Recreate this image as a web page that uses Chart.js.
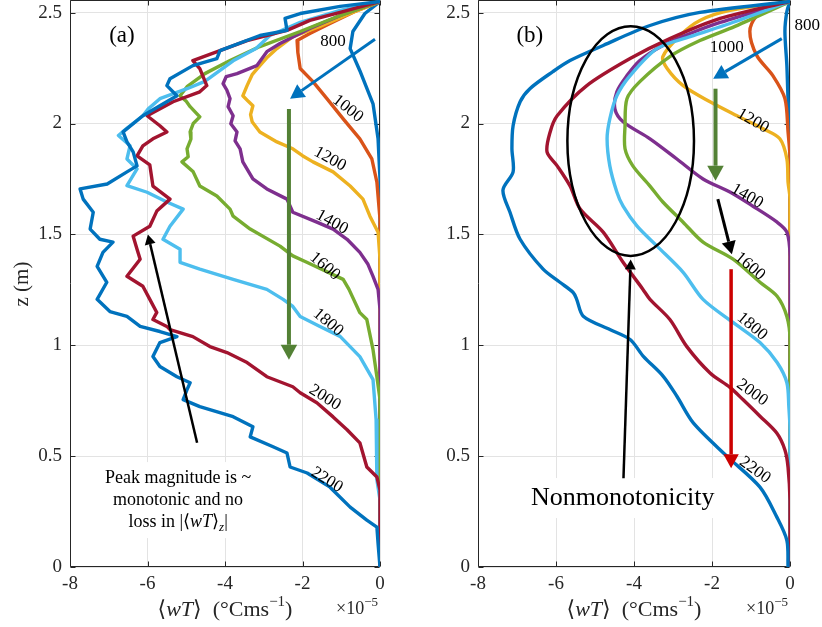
<!DOCTYPE html>
<html>
<head>
<meta charset="utf-8">
<script src="https://cdn.jsdelivr.net/npm/chart.js@4.4.1/dist/chart.umd.min.js"></script>
<style>
  html, body { margin: 0; padding: 0; background: #fff; }
  body { position: relative; width: 822px; height: 627px; overflow: hidden; }
  .panel { position: absolute; top: 0; }
  #panelA { left: 0; }
  #panelB { left: 410px; }
</style>
</head>
<body>
<canvas id="panelA" class="panel" width="400" height="627"></canvas>
<canvas id="panelB" class="panel" width="412" height="627"></canvas>
<script>
const SERIF = "'Liberation Serif', 'DejaVu Serif', serif"
const INK = '#262626'

// runs (legend text written on the curves) and MATLAB default colours
const runs = ['800', '1000', '1200', '1400', '1600', '1800', '2000', '2200']
const runColors = ['#0072BD', '#D95319', '#EDB120', '#7E2F8E', '#77AC30', '#4DBEEE', '#A2142F', '#0072BD']
const xTicks = [-8, -6, -4, -2, 0]
const zTicks = [0, 0.5, 1, 1.5, 2, 2.5]

// ---- panel (a): z (m) and <wT> (x1e-5 C m/s) ----
const zA800 = [2.55, 2.496, 2.415, 2.338, 2.238, 2.089, 1.931, 1.75, 0]
const wtA800 = [0, -0.39, -0.70, -0.77, -0.52, -0.18, -0.05, 0, 0]

const zA1000 = [2.55, 2.505, 2.451, 2.406, 2.374, 2.32, 2.248, 2.189, 2.112, 2.021, 1.931, 1.84, 1.736, 1.569, 0]
const wtA1000 = [0, -0.65, -1.29, -1.81, -2.14, -2.12, -2.06, -1.73, -1.37, -0.95, -0.52, -0.21, -0.08, 0, 0]

const zA1200 = [2.55, 2.496, 2.438, 2.392, 2.338, 2.3, 2.261, 2.22, 2.171, 2.125, 2.1, 2.08, 2.04, 2.008, 1.962, 1.917, 1.886, 1.855, 1.827, 1.782, 1.718, 1.659, 1.582, 1.51, 1.388, 0]
const wtA1200 = [0, -0.77, -1.55, -2.25, -2.66, -2.9, -3.10, -3.3, -3.43, -3.54, -3.4, -3.28, -3.34, -3.30, -3.10, -2.66, -2.25, -2.0, -1.73, -1.21, -0.77, -0.44, -0.26, -0.05, 0, 0]

const zA1400 = [2.55, 2.496, 2.429, 2.361, 2.324, 2.261, 2.225, 2.211, 2.18, 2.15, 2.112, 2.076, 2.035, 1.999, 1.962, 1.922, 1.886, 1.827, 1.75, 1.705, 1.659, 1.6, 1.555, 1.524, 1.478, 1.419, 1.365, 1.311, 1.252, 1.162, 0]
const wtA1400 = [0, -0.90, -1.81, -2.58, -2.92, -3.18, -3.69, -3.97, -4.05, -3.95, -3.87, -3.92, -3.79, -3.85, -3.69, -3.74, -3.61, -3.54, -3.28, -2.92, -2.40, -2.25, -1.63, -1.21, -0.85, -0.52, -0.31, -0.18, -0.05, 0, 0]

const zA1600 = [2.55, 2.487, 2.415, 2.347, 2.284, 2.225, 2.166, 2.125, 2.1, 2.076, 2.03, 2.0, 1.962, 1.93, 1.886, 1.85, 1.827, 1.782, 1.718, 1.673, 1.614, 1.582, 1.524, 1.447, 1.403, 1.374, 1.297, 1.252, 1.147, 1.116, 0.98, 0.858, 0.755, 0]
const wtA1600 = [0, -1.03, -2.06, -3.10, -3.87, -4.52, -4.98, -5.16, -5.0, -4.90, -4.65, -4.82, -4.90, -4.88, -4.98, -4.95, -5.11, -4.82, -4.65, -4.21, -3.87, -3.79, -3.35, -2.58, -2.25, -1.89, -0.95, -0.80, -0.52, -0.34, -0.18, -0.08, 0, 0]

const zA1800 = [2.55, 2.51, 2.456, 2.397, 2.338, 2.283, 2.19, 2.157, 2.112, 2.066, 2.035, 1.976, 1.946, 1.9, 1.84, 1.795, 1.72, 1.69, 1.646, 1.614, 1.537, 1.478, 1.433, 1.374, 1.343, 1.297, 1.252, 1.207, 1.175, 1.13, 1.085, 1.04, 0.949, 0.845, 0.664, 0.393, 0.302, 0]
const wtA1800 = [0, -1.03, -2.06, -2.84, -3.2, -3.79, -4.52, -4.98, -5.68, -5.98, -6.12, -6.55, -6.75, -6.45, -6.53, -6.27, -6.53, -6.01, -5.50, -5.08, -5.42, -5.60, -5.16, -5.16, -4.65, -3.79, -2.92, -2.50, -2.25, -2.06, -1.55, -1.03, -0.52, -0.18, -0.10, -0.08, 0, 0]

const zA2000 = [2.55, 2.501, 2.465, 2.42, 2.374, 2.329, 2.284, 2.248, 2.171, 2.143, 2.098, 2.035, 1.99, 1.962, 1.931, 1.899, 1.854, 1.813, 1.718, 1.659, 1.605, 1.537, 1.492, 1.433, 1.388, 1.311, 1.266, 1.207, 1.148, 1.116, 1.085, 1.071, 1.039, 0.994, 0.967, 0.922, 0.858, 0.813, 0.786, 0.741, 0.677, 0.619, 0.56, 0.451, 0.406, 0.347, 0]
const wtA2000 = [0, -1.03, -1.81, -2.40, -3.43, -4.13, -4.83, -4.65, -4.47, -4.65, -5.34, -6.01, -5.68, -5.50, -5.86, -6.12, -6.27, -5.94, -5.86, -5.42, -5.76, -5.94, -6.37, -6.27, -6.19, -6.53, -6.12, -5.94, -5.76, -5.86, -5.50, -5.42, -4.83, -4.39, -3.95, -3.43, -2.92, -2.25, -2.06, -1.63, -1.21, -0.85, -0.52, -0.34, -0.08, 0, 0]

const zA2200 = [2.55, 2.528, 2.496, 2.474, 2.42, 2.397, 2.329, 2.293, 2.261, 2.202, 2.171, 2.125, 2.08, 2.035, 1.962, 1.917, 1.872, 1.809, 1.782, 1.727, 1.705, 1.659, 1.6, 1.524, 1.478, 1.465, 1.419, 1.356, 1.284, 1.207, 1.152, 1.13, 1.085, 1.062, 1.039, 1.012, 0.949, 0.904, 0.858, 0.831, 0.8, 0.755, 0.723, 0.678, 0.632, 0.587, 0.542, 0.514, 0.451, 0.424, 0.36, 0.27, 0.211, 0.18, 0.107, 0]
const wtA2200 = [0, -1.03, -2.06, -2.45, -2.40, -3.10, -4.13, -4.21, -4.83, -5.42, -5.50, -5.24, -5.68, -6.12, -6.63, -6.53, -6.37, -6.27, -6.53, -7.04, -7.74, -7.66, -7.40, -7.48, -7.23, -6.89, -7.15, -7.30, -7.05, -7.30, -6.97, -6.53, -6.19, -5.68, -5.24, -5.68, -5.86, -5.68, -5.24, -4.90, -4.98, -5.08, -4.65, -3.79, -3.28, -3.35, -2.76, -2.40, -2.32, -1.88, -1.29, -0.77, -0.34, -0.08, -0.05, 0]

// ---- panel (b) ----
const zB800 = [2.55, 2.505, 2.415, 2.261, 2.112, 1.962, 0]
const wtB800 = [0, -0.08, -0.13, -0.08, -0.05, 0, 0]

const zB1000 = [2.55, 2.528, 2.487, 2.415, 2.306, 2.216, 2.112, 1.962, 1.84, 0]
const wtB1000 = [0, -0.51, -0.85, -1.03, -0.85, -0.44, -0.13, -0.05, 0, 0]

const zB1200 = [2.55, 2.51, 2.465, 2.397, 2.302, 2.248, 2.171, 2.098, 2.035, 1.976, 1.931, 1.84, 1.736, 1.659, 0]
const wtB1200 = [0, -1.54, -2.31, -2.82, -3.26, -3.15, -2.74, -2.05, -1.36, -0.69, -0.26, -0.08, -0.05, 0, 0]

const zB1400 = [2.55, 2.456, 2.406, 2.352, 2.284, 2.216, 2.143, 2.066, 2.008, 1.931, 1.84, 1.75, 1.691, 1.627, 1.555, 1.51, 1.401, 0]
const wtB1400 = [0, -1.79, -2.56, -3.26, -3.85, -4.18, -4.44, -4.49, -4.28, -3.59, -2.90, -2.23, -1.54, -0.95, -0.33, -0.08, 0, 0]

const zB1600 = [2.55, 2.438, 2.374, 2.302, 2.189, 2.112, 1.99, 1.886, 1.809, 1.718, 1.646, 1.555, 1.465, 1.388, 1.284, 1.221, 1.13, 1.026, 0]
const wtB1600 = [0, -1.41, -2.31, -3.08, -3.85, -4.18, -4.23, -4.23, -4.03, -3.59, -3.26, -2.74, -2.23, -1.46, -0.77, -0.33, -0.08, 0, 0]

const zB1800 = [2.55, 2.451, 2.392, 2.338, 2.216, 2.125, 2.021, 1.931, 1.809, 1.691, 1.627, 1.537, 1.447, 1.329, 1.207, 1.103, 1.012, 0.922, 0.831, 0.723, 0.619, 0]
const wtB1800 = [0, -1.54, -2.56, -3.41, -4.10, -4.44, -4.62, -4.69, -4.62, -4.44, -4.28, -3.92, -3.41, -2.74, -2.23, -1.46, -0.77, -0.33, -0.08, -0.03, 0, 0]

const zB2000 = [2.55, 2.474, 2.383, 2.293, 2.171, 2.035, 1.962, 1.872, 1.809, 1.718, 1.614, 1.51, 1.374, 1.252, 1.207, 1.116, 0.995, 0.875, 0.81, 0.754, 0.68, 0.604, 0.528, 0.45, 0.3, 0]
const wtB2000 = [0, -1.79, -3.08, -4.10, -5.21, -5.97, -6.15, -6.23, -5.97, -5.64, -5.38, -4.79, -4.28, -3.77, -3.59, -3.08, -2.65, -2.05, -1.54, -1.20, -0.77, -0.34, -0.13, -0.05, 0, 0]

const zB2200 = [2.55, 2.501, 2.442, 2.352, 2.284, 2.234, 2.157, 2.098, 1.99, 1.886, 1.782, 1.7, 1.6, 1.478, 1.343, 1.284, 1.238, 1.207, 1.131, 1.071, 1.026, 0.95, 0.86, 0.77, 0.65, 0.5, 0.36, 0.226, 0.12, 0]
const wtB2200 = [0, -2.31, -3.59, -4.79, -5.64, -6.08, -6.67, -6.92, -7.10, -7.13, -7.10, -7.36, -7.18, -6.92, -6.33, -5.90, -5.56, -5.47, -5.30, -4.62, -4.10, -3.76, -3.25, -2.90, -2.48, -1.62, -0.77, -0.34, -0.08, -0.05]

const zA = [zA800, zA1000, zA1200, zA1400, zA1600, zA1800, zA2000, zA2200]
const wtA = [wtA800, wtA1000, wtA1200, wtA1400, wtA1600, wtA1800, wtA2000, wtA2200]
const zB = [zB800, zB1000, zB1200, zB1400, zB1600, zB1800, zB2000, zB2200]
const wtB = [wtB800, wtB1000, wtB1200, wtB1400, wtB1600, wtB1800, wtB2000, wtB2200]

// rich text: parts = [{t, it, sup, sub}]
function partFont(p, size) {
  const s = p.sup || p.sub ? Math.round(size * 0.7) : size
  return (p.it ? 'italic ' : '') + s + 'px ' + SERIF
}
function richWidth(ctx, parts, size) {
  let w = 0
  parts.forEach(p => {
    ctx.font = partFont(p, size)
    w += ctx.measureText(p.t).width
  })
  return w
}
function drawRich(ctx, parts, x, y, size, align) {
  const w = richWidth(ctx, parts, size)
  let cx = align === 'center' ? x - w / 2 : align === 'right' ? x - w : x
  ctx.textAlign = 'left'
  ctx.textBaseline = 'middle'
  parts.forEach(p => {
    ctx.font = partFont(p, size)
    const dy = p.sup ? -size * 0.36 : p.sub ? size * 0.3 : 0
    ctx.fillText(p.t, cx, y + dy)
    cx += ctx.measureText(p.t).width
  })
}

function drawArrow(ctx, x1, y1, x2, y2, color, w, head) {
  const ang = Math.atan2(y2 - y1, x2 - x1)
  const bx = x2 - head * Math.cos(ang)
  const by = y2 - head * Math.sin(ang)
  const hw = head * 0.55
  ctx.strokeStyle = color
  ctx.fillStyle = color
  ctx.lineWidth = w
  ctx.lineCap = 'butt'
  ctx.beginPath()
  ctx.moveTo(x1, y1)
  ctx.lineTo(bx, by)
  ctx.stroke()
  ctx.beginPath()
  ctx.moveTo(x2, y2)
  ctx.lineTo(bx + hw * Math.sin(ang), by - hw * Math.cos(ang))
  ctx.lineTo(bx - hw * Math.sin(ang), by + hw * Math.cos(ang))
  ctx.closePath()
  ctx.fill()
}

const titleParts = [{ t: '\u27E8' }, { t: 'wT', it: true }, { t: '\u27E9  (\u00B0Cms' }, { t: '\u22121', sup: true }, { t: ')' }]
const expParts = [{ t: '\u00D710' }, { t: '\u22125', sup: true }]

function decorPlugin(cfg) {
  return {
    id: 'decor',
    beforeDatasetsDraw(chart) {
      const { ctx, chartArea: a, scales } = chart
      const L = Math.round(a.left) + 0.5
      const R = Math.round(a.right) - 0.5
      const T = Math.round(a.top) + 0.5
      const B = Math.round(a.bottom) - 0.5
      ctx.save()
      ctx.strokeStyle = INK
      ctx.lineWidth = 1
      ctx.beginPath()
      ctx.rect(L, T, R - L, B - T)
      xTicks.forEach(v => {
        const p = Math.round(scales.x.getPixelForValue(v)) + 0.5
        ctx.moveTo(p, B); ctx.lineTo(p, B - 5)
        ctx.moveTo(p, T); ctx.lineTo(p, T + 5)
      })
      zTicks.forEach(v => {
        const p = Math.round(scales.y.getPixelForValue(v)) + 0.5
        ctx.moveTo(L, p); ctx.lineTo(L + 5, p)
        ctx.moveTo(R, p); ctx.lineTo(R - 5, p)
      })
      ctx.stroke()
      ctx.restore()
    },
    afterDatasetsDraw(chart) {
      const { ctx, scales } = chart
      const X = v => scales.x.getPixelForValue(v)
      const Y = v => scales.y.getPixelForValue(v)
      ctx.save()

      // run labels on the curves
      ctx.font = '17px ' + SERIF
      ctx.fillStyle = '#000'
      ctx.textAlign = 'center'
      ctx.textBaseline = 'middle'
      cfg.labels.forEach(([i, x, z, deg]) => {
        ctx.save()
        ctx.translate(X(x), Y(z))
        ctx.rotate(deg * Math.PI / 180)
        ctx.fillText(runs[i], 0, 0)
        ctx.restore()
      })

      // boxed notes
      cfg.notes.forEach(n => {
        const cx = X(n.x)
        const cy = Y(n.z)
        const w = Math.max(...n.lines.map(parts => richWidth(ctx, parts, n.size)))
        const h = n.gap * (n.lines.length - 1) + n.size
        ctx.fillStyle = '#fff'
        ctx.fillRect(cx - w / 2 - n.pad, cy - n.size / 2 - n.pad, w + 2 * n.pad, h + 2 * n.pad)
        ctx.fillStyle = '#000'
        n.lines.forEach((parts, k) => drawRich(ctx, parts, cx, cy + k * n.gap, n.size, 'center'))
      })

      if (cfg.ellipse) {
        const e = cfg.ellipse
        ctx.strokeStyle = '#000'
        ctx.lineWidth = 2.5
        ctx.beginPath()
        ctx.ellipse(X(e.x), Y(e.z), Math.abs(X(e.x + e.rx) - X(e.x)), Math.abs(Y(e.z + e.rz) - Y(e.z)), 0, 0, Math.PI * 2)
        ctx.stroke()
      }

      cfg.arrows.forEach(ar => {
        drawArrow(ctx, X(ar.from[0]), Y(ar.from[1]), X(ar.to[0]), Y(ar.to[1]), ar.color, ar.w, ar.head)
      })

      // panel tag
      ctx.fillStyle = '#000'
      ctx.font = '23px ' + SERIF
      ctx.textAlign = 'center'
      ctx.textBaseline = 'middle'
      ctx.fillText(cfg.tag, X(cfg.tagAt[0]), Y(cfg.tagAt[1]))
      ctx.restore()
    },
    afterDraw(chart) {
      const { ctx, chartArea: a, scales } = chart
      const X = v => scales.x.getPixelForValue(v)
      const Y = v => scales.y.getPixelForValue(v)
      ctx.save()
      ctx.fillStyle = INK
      ctx.font = '19px ' + SERIF
      ctx.textAlign = 'right'
      ctx.textBaseline = 'middle'
      zTicks.forEach(v => ctx.fillText(String(v), a.left - 8, Y(v)))
      ctx.textAlign = 'center'
      xTicks.forEach(v => ctx.fillText(String(v), X(v), a.bottom + 17))

      drawRich(ctx, titleParts, X(-4), 610, 22, 'center')
      drawRich(ctx, expParts, a.right - 2, 609, 18, 'right')

      if (cfg.yTitle) {
        ctx.translate(22, 284)
        ctx.rotate(-Math.PI / 2)
        ctx.font = '21px ' + SERIF
        ctx.textAlign = 'center'
        ctx.textBaseline = 'middle'
        ctx.fillText(cfg.yTitle, 0, 0)
      }
      ctx.restore()
    }
  }
}

function makePanel(id, zs, wts, cfg) {
  const datasets = runs.map((r, i) => ({
    label: r,
    data: zs[i].map((z, k) => ({ x: wts[i][k], y: z })),
    showLine: true,
    borderColor: runColors[i],
    backgroundColor: runColors[i],
    borderWidth: 3.4,
    borderJoinStyle: 'round',
    borderCapStyle: 'round',
    pointRadius: 0,
    tension: cfg.tension,
    order: runs.length - i
  }))
  return new Chart(document.getElementById(id), {
    type: 'scatter',
    data: { datasets },
    options: {
      responsive: false,
      animation: false,
      events: [],
      layout: { padding: { left: 0, right: cfg.rightPad, top: 0, bottom: 0 } },
      plugins: { legend: { display: false }, tooltip: { enabled: false } },
      scales: {
        x: {
          type: 'linear',
          min: -8,
          max: 0,
          afterBuildTicks: s => { s.ticks = xTicks.map(v => ({ value: v })) },
          afterFit: s => { s.height = 60 },
          ticks: { display: false },
          grid: { color: '#e3e3e3', drawTicks: false },
          border: { display: false }
        },
        y: {
          type: 'linear',
          min: 0,
          max: 2.557,
          afterBuildTicks: s => { s.ticks = zTicks.map(v => ({ value: v })) },
          afterFit: s => { s.width = cfg.leftW },
          ticks: { display: false },
          grid: { color: '#e3e3e3', drawTicks: false },
          border: { display: false }
        }
      }
    },
    plugins: [decorPlugin(cfg)]
  })
}

// annotations, in data coordinates
makePanel('panelA', zA, wtA, {
  leftW: 70,
  rightPad: 20,
  tension: 0,
  tag: '(a)',
  tagAt: [-6.66, 2.397],
  yTitle: 'z (m)',
  labels: [
    [0, -1.21, 2.369, 0],
    [1, -0.83, 2.067, 38],
    [2, -1.29, 1.84, 29],
    [3, -1.24, 1.555, 29],
    [4, -1.42, 1.356, 40],
    [5, -1.34, 1.103, 40],
    [6, -1.42, 0.764, 32],
    [7, -1.37, 0.393, 32]
  ],
  notes: [{
    x: -5.21, z: 0.401, size: 18, gap: 22, pad: 7,
    lines: [
      [{ t: 'Peak magnitude is ~' }],
      [{ t: 'monotonic and no' }],
      [{ t: 'loss in |\u27E8' }, { t: 'wT', it: true }, { t: '\u27E9' }, { t: 'z', it: true, sub: true }, { t: '|' }]
    ]
  }],
  ellipse: null,
  arrows: [
    { from: [-0.13, 2.38], to: [-2.32, 2.112], color: '#0072BD', w: 3, head: 14 },
    { from: [-2.35, 2.066], to: [-2.35, 0.935], color: '#538135', w: 4, head: 15 },
    { from: [-4.72, 0.56], to: [-5.99, 1.50], color: '#000', w: 2.5, head: 10 }
  ]
})

makePanel('panelB', zB, wtB, {
  leftW: 68,
  rightPad: 32,
  tension: 0.3,
  tag: '(b)',
  tagAt: [-6.67, 2.397],
  yTitle: null,
  labels: [
    [0, 0.44, 2.442, 0],
    [1, -1.62, 2.342, 0],
    [2, -0.95, 2.012, 30],
    [3, -1.10, 1.673, 30],
    [4, -1.03, 1.356, 40],
    [5, -0.97, 1.085, 40],
    [6, -0.97, 0.786, 36],
    [7, -0.90, 0.437, 36]
  ],
  notes: [{
    x: -4.29, z: 0.311, size: 26, gap: 30, pad: 7,
    lines: [[{ t: 'Nonmonotonicity' }]]
  }],
  ellipse: { x: -4.085, z: 1.921, rx: 1.623, rz: 0.518 },
  arrows: [
    { from: [-0.21, 2.383], to: [-1.97, 2.202], color: '#0072BD', w: 3, head: 14 },
    { from: [-1.91, 2.157], to: [-1.91, 1.742], color: '#538135', w: 4, head: 15 },
    { from: [-1.85, 1.659], to: [-1.49, 1.41], color: '#000', w: 3, head: 13 },
    { from: [-1.51, 1.343], to: [-1.51, 0.445], color: '#cc0000', w: 3.5, head: 14 },
    { from: [-4.27, 0.40], to: [-4.085, 1.387], color: '#000', w: 2.5, head: 10 }
  ]
})
</script>
</body>
</html>
